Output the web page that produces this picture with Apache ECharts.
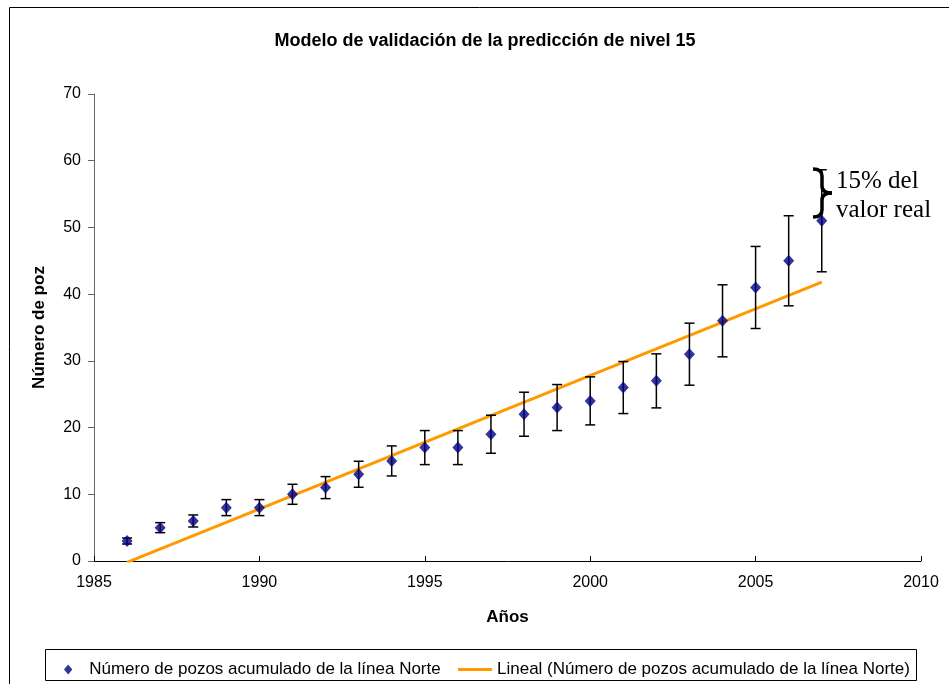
<!DOCTYPE html>
<html>
<head>
<meta charset="utf-8">
<script src="https://cdn.jsdelivr.net/npm/echarts@6/dist/echarts.min.js"></script>
<style>html,body{margin:0;padding:0;background:#fff;}#c{width:949px;height:684px;}</style>
</head>
<body>
<div id="c"></div>
<script>
const years = [1986,1987,1988,1989,1990,1991,1992,1993,1994,1995,1996,1997,1998,1999,2000,2001,2002,2003,2004,2005,2006,2007];
const pozos = [3,5,6,8,8,10,11,13,15,17,17,19,22,23,24,26,27,31,36,41,45,51];
const errorPct = 0.15;
const trendLine = [[1986,-0.2],[2007,41.8]];
const xTicks = [1985,1990,1995,2000,2005,2010];
const yTicks = [0,10,20,30,40,50,60,70];
const seriesName = 'Número de pozos acumulado de la línea Norte';
const trendName = 'Lineal (Número de pozos acumulado de la línea Norte)';

const scatterData = years.map((y,i)=>[y,pozos[i]]);
const errData = years.map((y,i)=>[y, pozos[i]*(1-errorPct), pozos[i]*(1+errorPct)]);

const chart = echarts.init(document.getElementById('c'));
const font = 'Liberation Sans, Arial, sans-serif';
const bst = {fill:'none',stroke:'#000',lineWidth:3.5};
chart.setOption({
  animation:false,
  backgroundColor:'#fff',
  title:{text:'Modelo de validación de la predicción de nivel 15',left:480,textAlign:'center',top:27,
    textStyle:{fontFamily:font,fontSize:18,fontWeight:'bold',color:'#000'}},
  grid:{left:94,right:28,top:94,bottom:123},
  legend:[
    {left:59,top:656,itemWidth:32,itemHeight:10,symbolKeepAspect:true,
      textStyle:{fontFamily:font,fontSize:17,color:'#000'},
      data:[{name:seriesName,icon:'path://M5,0 L10,6 L5,12 L0,6 Z'}]},
    {left:453,top:656,itemWidth:34,itemHeight:3,
      textStyle:{fontFamily:font,fontSize:17,color:'#000'},
      data:[{name:trendName,icon:'rect'}]}
  ],
  graphic:[
    {type:'rect',shape:{x:9.5,y:7.5,width:1000,height:1000},style:{fill:'none',stroke:'#000',lineWidth:1},z:-1},
    {type:'rect',shape:{x:45.5,y:649.5,width:871,height:31},style:{fill:'none',stroke:'#000',lineWidth:1}},
    {type:'group',z:10,children:[
      {type:'bezierCurve',shape:{x1:813,y1:169,x2:822,y2:176,cpx1:822,cpy1:169},style:bst},
      {type:'line',shape:{x1:822,y1:176,x2:822,y2:186},style:bst},
      {type:'bezierCurve',shape:{x1:822,y1:186,x2:832,y2:193,cpx1:822,cpy1:193},style:bst},
      {type:'bezierCurve',shape:{x1:832,y1:193,x2:822,y2:200,cpx1:822,cpy1:193},style:bst},
      {type:'line',shape:{x1:822,y1:200,x2:822,y2:210},style:bst},
      {type:'bezierCurve',shape:{x1:822,y1:210,x2:813,y2:217,cpx1:822,cpy1:217},style:bst}
    ]},
    {type:'text',left:836,top:167,z:10,style:{text:'15% del\nvalor real',fontFamily:'Liberation Serif, Times New Roman, serif',fontSize:25,lineHeight:29,fill:'#000'}}
  ],
  xAxis:{type:'value',min:1985,max:2010,interval:5,name:'Años',nameLocation:'middle',nameGap:48,
    nameTextStyle:{fontFamily:font,fontSize:17,fontWeight:'bold',color:'#000'},
    axisLine:{onZero:false,lineStyle:{color:'#000',width:1}},
    axisTick:{inside:true,length:5,lineStyle:{color:'#000'}},
    axisLabel:{fontFamily:font,fontSize:16,color:'#000',margin:14,
      formatter:v=>xTicks.includes(v)?String(v):''},
    splitLine:{show:false}},
  yAxis:{type:'value',min:0,max:70,interval:10,name:'Número de poz',nameLocation:'middle',nameGap:46,
    nameTextStyle:{fontFamily:font,fontSize:17,fontWeight:'bold',color:'#000'},
    axisLine:{show:true,lineStyle:{color:'#666',width:1}},
    axisTick:{show:true,length:6,lineStyle:{color:'#666'}},
    axisLabel:{fontFamily:font,fontSize:16,color:'#000',margin:13,
      formatter:v=>yTicks.includes(v)?String(v):''},
    splitLine:{show:false}},
  series:[
    {name:trendName,type:'line',data:trendLine,symbol:'none',clip:true,
      lineStyle:{color:'#FF9900',width:3},itemStyle:{color:'#FF9900'},z:2},
    {name:'err',type:'custom',data:errData,z:3,
      renderItem:function(params,api){
        const x=api.value(0);
        const lo=api.coord([x,api.value(1)]);
        const hi=api.coord([x,api.value(2)]);
        const w=5;
        const st={stroke:'#000',lineWidth:1.5};
        return {type:'group',children:[
          {type:'line',shape:{x1:lo[0],y1:lo[1],x2:hi[0],y2:hi[1]},style:st},
          {type:'line',shape:{x1:lo[0]-w,y1:lo[1],x2:lo[0]+w,y2:lo[1]},style:st},
          {type:'line',shape:{x1:hi[0]-w,y1:hi[1],x2:hi[0]+w,y2:hi[1]},style:st}
        ]};
      }},
    {name:seriesName,type:'scatter',data:scatterData,symbol:'diamond',symbolSize:[11,12],
      itemStyle:{color:'#000080'},z:4}
  ]
});
</script>
</body>
</html>
